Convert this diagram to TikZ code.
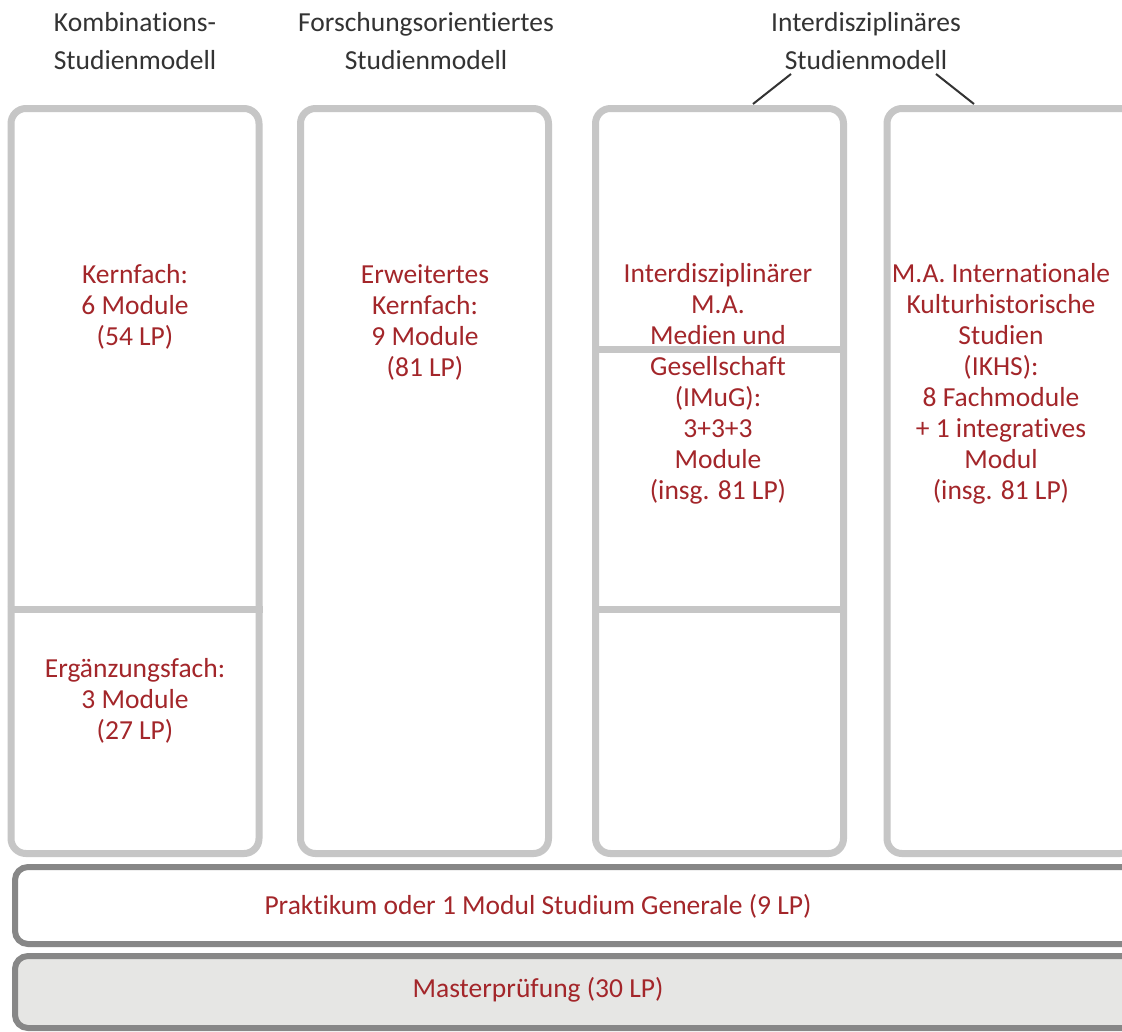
\documentclass[tikz,border=0pt]{standalone}
\usepackage{fontspec}
\setmainfont{Carlito}[Ligatures=NoCommon]
\definecolor{boxgray}{HTML}{C6C6C6}
\definecolor{bargray}{HTML}{878787}
\definecolor{barfill}{HTML}{E6E6E4}
\definecolor{txtred}{HTML}{A3262A}
\definecolor{hdgray}{HTML}{333333}
\tikzset{
  colbox/.style={draw=boxgray, line width=7pt, rounded corners=15pt, fill=white,
    minimum width=248pt, minimum height=745pt, inner sep=0pt},
  bar/.style={draw=bargray, line width=6pt, rounded corners=13pt,
    minimum width=1125pt, inner sep=0pt},
  lbl/.style={text=txtred, align=center, font=\fontsize{27.5}{31}\selectfont},
  hdr/.style={text=hdgray, align=center, font=\fontsize{27.5}{38}\selectfont},
}
\begin{document}
\begin{tikzpicture}[x=1pt, y=-1pt]
\useasboundingbox[fill=white] (0,0) rectangle (1122,1031);
\clip (0,0) rectangle (1122,1031);

\foreach \x/\name in {135/box1,424.5/box2,719.5/box3,1011/box4}
{
    \node[colbox] (\name) at (\x,481) {};
}
\foreach \b/\y in {box1/609,box3/349,box3/609}
{
    \draw[boxgray, line width=7pt] (\b.west |- 0,\y) -- (\b.east |- 0,\y);
}

\node[bar, fill=white, minimum height=77pt] (prak) at (577.5,905.5) {};
\node[bar, fill=barfill, minimum height=72pt] (master) at (577.5,992) {};

\node[hdr] (hdr1) at (135,41) {Kombinations-\\Studienmodell};
\node[hdr] (hdr2) at (426,41) {Forschungsorientiertes\\Studienmodell};
\node[hdr] (hdr3) at (866,41) {Interdisziplinäres\\Studienmodell};
\coordinate (hdr3l) at (791,74);
\coordinate (box3t) at (753,104);
\coordinate (hdr3r) at (936,74);
\coordinate (box4t) at (974,104);
\draw[hdgray, line width=2pt] (hdr3l) -- (box3t);
\draw[hdgray, line width=2pt] (hdr3r) -- (box4t);

\node[lbl] (kern) at (135,307) {Kernfach:\\6 Module\\(54 LP)};
\node[lbl] (erg) at (135,701) {Ergänzungsfach:\\3 Module\\(27 LP)};
\node[lbl] (erw) at (425,322) {Erweitertes\\Kernfach:\\9 Module\\(81 LP)};
\node[lbl] (imug) at (718,384) {Interdisziplinärer\\M.A.\\Medien und\\Gesellschaft\\(IMuG):\\3+3+3\\Module\\(insg. 81 LP)};
\node[lbl] (ikhs) at (1001,384) {M.A. Internationale\\Kulturhistorische\\Studien\\(IKHS):\\8 Fachmodule\\+ 1 integratives\\Modul\\(insg. 81 LP)};

\node[lbl] (praktxt) at (538,906) {Praktikum oder 1 Modul Studium Generale (9 LP)};
\node[lbl] (mastertxt) at (538,990) {Masterprüfung (30 LP)};
\end{tikzpicture}
\end{document}
